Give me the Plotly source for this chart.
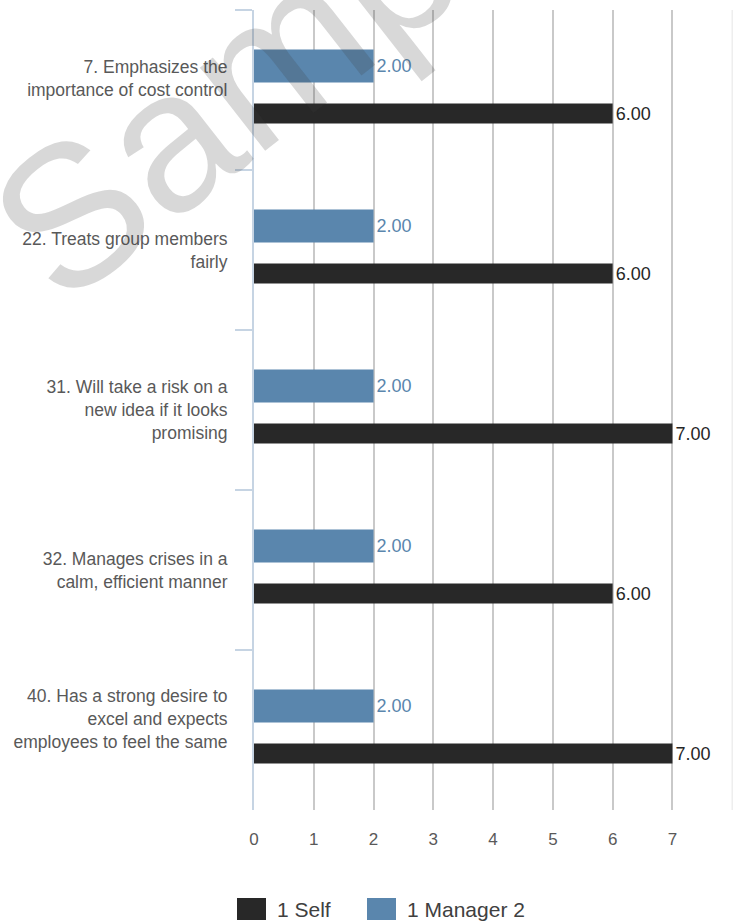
import plotly.graph_objects as go

# Survey items (one row per statement)
items = [
    "7. Emphasizes the<br>importance of cost control<br> ",
    "22. Treats group members<br>fairly",
    "31. Will take a risk on a<br>new idea if it looks<br>promising",
    "32. Manages crises in a<br>calm, efficient manner",
    "40. Has a strong desire to<br>excel and expects<br>employees to feel the same<br> ",
]
self_scores = [6, 6, 7, 6, 7]
manager_scores = [2, 2, 2, 2, 2]
x_ticks = [0, 1, 2, 3, 4, 5, 6, 7]
series_names = ["1 Self", "1 Manager 2"]

SELF_COLOR = "#282828"
MANAGER_COLOR = "#5a86ad"
AXIS_COLOR = "#c6d4e3"
GRID_COLOR = "#c9c9c9"
FONT = "Liberation Sans, Arial, sans-serif"

fig = go.Figure()

fig.add_trace(go.Bar(
    name=series_names[0],
    y=items, x=self_scores, orientation="h",
    marker=dict(color=SELF_COLOR, line=dict(width=0)),
    offset=0.085, width=0.125,
    text=[f"{v:.2f}" for v in self_scores],
    textposition="outside",
    textfont=dict(color="#262626", size=18, family=FONT),
    cliponaxis=False, showlegend=False,
))

fig.add_trace(go.Bar(
    name=series_names[1],
    y=items, x=manager_scores, orientation="h",
    marker=dict(color=MANAGER_COLOR, line=dict(width=0)),
    offset=-0.253, width=0.206,
    text=[f"{v:.2f}" for v in manager_scores],
    textposition="outside",
    textfont=dict(color=MANAGER_COLOR, size=18, family=FONT),
    cliponaxis=False, showlegend=False,
))

# faint right-hand border of the plotting area
fig.add_shape(type="line", xref="x", yref="paper", x0=8, x1=8, y0=0, y1=1,
              line=dict(color="#eeeeee", width=1.5), layer="below")

# legend row under the axis: large swatches followed by series names
legend_items = [(series_names[0], SELF_COLOR, -0.0354), (series_names[1], MANAGER_COLOR, 0.2354)]
for name, color, x0 in legend_items:
    fig.add_shape(type="rect", xref="paper", yref="paper",
                  x0=x0, x1=x0 + 0.0604, y0=-0.1375, y1=-0.11,
                  fillcolor=color, line=dict(width=0))
    fig.add_annotation(text=name, xref="paper", yref="paper",
                       x=x0 + 0.0792, y=-0.1245, xanchor="left", yanchor="middle",
                       showarrow=False, font=dict(size=21, color="#404040", family=FONT))

# "Sample" watermark laid over the chart
fig.add_annotation(
    text="Sample", xref="paper", yref="paper", x=0.066, y=0.954,
    xanchor="center", yanchor="middle", showarrow=False, textangle=-38,
    font=dict(size=200, family=FONT, color="rgba(60,60,60,0.2)"),
)

fig.update_layout(
    width=742, height=924,
    margin=dict(l=254, r=8, t=10, b=114),
    paper_bgcolor="white", plot_bgcolor="white",
    barmode="overlay",
    font=dict(family=FONT, color="#595959", size=18),
    showlegend=False,
    xaxis=dict(
        range=[0, 8.03], tickvals=x_ticks, ticktext=[str(t) for t in x_ticks],
        showgrid=True, gridcolor=GRID_COLOR, gridwidth=1.5,
        zeroline=False, showline=False, ticks="",
        tickfont=dict(size=17, color="#595959"),
        ticklabelstandoff=17,
    ),
    yaxis=dict(
        type="category", autorange="reversed",
        showline=True, linecolor=AXIS_COLOR, linewidth=2,
        ticks="outside", tickson="boundaries", ticklen=17,
        tickcolor=AXIS_COLOR, tickwidth=2,
        showgrid=False, zeroline=False,
        tickfont=dict(size=17.5, color="#595959"),
        ticklabelstandoff=21,
    ),
)

fig.write_html("out.html")
